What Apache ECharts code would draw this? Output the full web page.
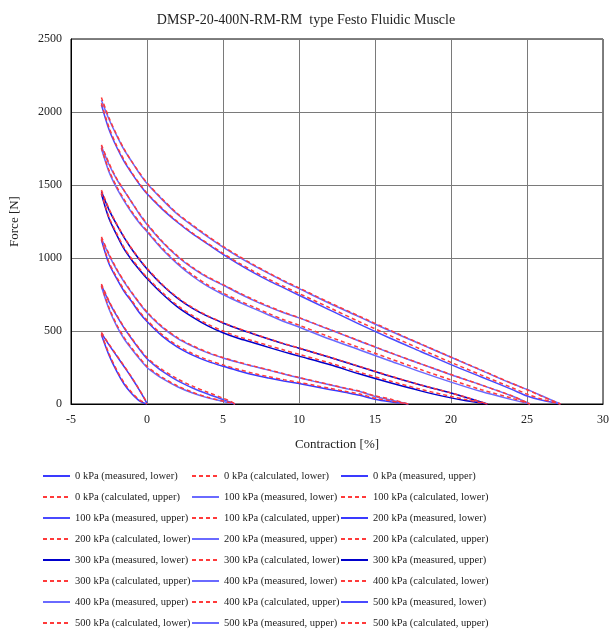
<!DOCTYPE html>
<html>
<head>
<meta charset="utf-8">
<script src="https://cdn.jsdelivr.net/npm/echarts@6/dist/echarts.min.js"></script>
<style>
  html, body { margin: 0; padding: 0; background: #fff; }
  #chart { width: 612px; height: 629px; }
</style>
</head>
<body>
<div id="chart"></div>
<script>
// Contraction [%] sample points per pressure loop, with forces [N]
const x0 = [-3, -2.5, -2, -1.5, -1, -0.5, 0];
const m0Lower = [475, 335, 225, 135, 70, 22, 0];
const c0Lower = [480, 345, 235, 145, 78, 28, 2];
const m0Upper = [485, 405, 330, 255, 178, 95, 5];
const c0Upper = [490, 410, 335, 260, 182, 98, 8];

const x100 = [-3, -2.5, -2, -1.5, -1, -0.5, 0, 0.5, 1, 2, 3, 4, 5, 5.5, 5.8];
const m100Lower = [805, 650, 535, 445, 375, 310, 250, 210, 175, 118, 75, 42, 18, 6, 0];
const c100Lower = [810, 660, 545, 455, 383, 318, 258, 218, 182, 124, 80, 46, 20, 8, 0];
const m100Upper = [815, 700, 605, 520, 445, 375, 310, 265, 225, 160, 110, 68, 30, 12, 0];
const c100Upper = [822, 706, 610, 525, 450, 380, 318, 273, 235, 172, 122, 80, 40, 18, 0];

const x200 = [-3, -2.5, -2, -1.5, -1, -0.5, 0, 1, 2, 3, 4, 5, 6, 7, 8, 9, 10, 11, 12, 13, 14, 15, 16, 17.2];
const m200Lower = [1125, 960, 860, 770, 700, 625, 565, 465, 390, 335, 292, 258, 228, 200, 178, 158, 140, 120, 100, 80, 60, 32, 15, 0];
const c200Lower = [1130, 970, 870, 780, 708, 634, 574, 475, 400, 345, 302, 268, 238, 210, 187, 167, 148, 128, 108, 88, 68, 40, 22, 0];
const m200Upper = [1135, 1020, 920, 835, 760, 690, 625, 525, 450, 395, 350, 315, 285, 258, 232, 205, 180, 155, 132, 108, 85, 52, 28, 0];
const c200Upper = [1145, 1028, 926, 840, 764, 694, 630, 530, 455, 400, 354, 318, 288, 260, 234, 207, 182, 157, 134, 110, 88, 56, 34, 0];

const x300 = [-3, -2.5, -2, -1.5, -1, -0.5, 0, 1, 2, 3, 4, 5, 6, 7, 8, 9, 10, 12, 14, 16, 18, 20, 21, 22.4];
const m300Lower = [1440, 1270, 1160, 1060, 985, 920, 860, 755, 665, 595, 535, 488, 450, 420, 388, 357, 328, 270, 205, 145, 90, 42, 22, 0];
const c300Lower = [1445, 1280, 1170, 1070, 993, 928, 868, 764, 675, 605, 546, 500, 462, 432, 400, 370, 340, 282, 217, 157, 101, 52, 30, 0];
const m300Upper = [1455, 1330, 1230, 1140, 1060, 990, 925, 815, 725, 655, 600, 555, 515, 480, 445, 412, 382, 320, 255, 190, 130, 75, 45, 0];
const c300Upper = [1465, 1338, 1235, 1145, 1064, 994, 930, 820, 730, 660, 604, 558, 518, 482, 447, 414, 384, 322, 257, 192, 131, 76, 46, 0];

const x400 = [-3, -2.5, -2, -1.5, -1, -0.5, 0, 1, 2, 3, 4, 5, 6, 7, 8, 9, 10, 12, 14, 16, 18, 20, 22, 24, 25.2];
const m400Lower = [1750, 1590, 1480, 1390, 1310, 1240, 1180, 1060, 960, 875, 805, 750, 700, 655, 610, 565, 527, 445, 370, 295, 220, 150, 85, 30, 0];
const c400Lower = [1755, 1600, 1490, 1400, 1318, 1248, 1187, 1068, 968, 884, 815, 760, 710, 665, 620, 577, 540, 460, 385, 310, 236, 165, 98, 40, 0];
const m400Upper = [1765, 1640, 1540, 1460, 1380, 1300, 1230, 1110, 1010, 930, 865, 815, 760, 710, 665, 625, 590, 510, 430, 350, 275, 200, 130, 55, 0];
const c400Upper = [1775, 1650, 1545, 1462, 1382, 1305, 1235, 1115, 1015, 935, 870, 818, 765, 715, 670, 628, 592, 512, 432, 352, 276, 202, 130, 56, 0];

const x500 = [-3, -2.5, -2, -1.5, -1, -0.5, 0, 1, 2, 3, 4, 5, 6, 7, 8, 9, 10, 12, 14, 16, 18, 20, 22, 24, 25, 26, 27.2];
const m500Lower = [2050, 1880, 1760, 1660, 1580, 1505, 1440, 1335, 1245, 1165, 1095, 1025, 960, 900, 845, 795, 745, 645, 545, 450, 360, 270, 185, 100, 55, 25, 0];
const c500Lower = [2060, 1895, 1770, 1670, 1585, 1510, 1445, 1340, 1250, 1170, 1100, 1032, 968, 910, 855, 805, 757, 660, 562, 468, 376, 285, 198, 112, 68, 32, 0];
const m500Upper = [2080, 1950, 1840, 1740, 1660, 1580, 1510, 1400, 1300, 1220, 1145, 1075, 1010, 950, 895, 840, 790, 690, 595, 500, 410, 320, 230, 140, 100, 55, 0];
const c500Upper = [2100, 1960, 1845, 1745, 1660, 1585, 1515, 1405, 1305, 1225, 1150, 1080, 1015, 955, 898, 845, 795, 695, 600, 505, 412, 322, 232, 142, 98, 52, 0];

const xTicks = { min: -5, max: 30, interval: 5 };
const yTicks = { min: 0, max: 2500, interval: 500 };

const loops = [
  { p: 0,   x: x0,   mL: m0Lower,   cL: c0Lower,   mU: m0Upper,   cU: c0Upper,   colL: '#3a3aff', colU: '#3a3aff' },
  { p: 100, x: x100, mL: m100Lower, cL: c100Lower, mU: m100Upper, cU: c100Upper, colL: '#6a6aff', colU: '#4a4aff' },
  { p: 200, x: x200, mL: m200Lower, cL: c200Lower, mU: m200Upper, cU: c200Upper, colL: '#3a3aff', colU: '#6a6aff' },
  { p: 300, x: x300, mL: m300Lower, cL: c300Lower, mU: m300Upper, cU: c300Upper, colL: '#0000cc', colU: '#0000cc' },
  { p: 400, x: x400, mL: m400Lower, cL: c400Lower, mU: m400Upper, cU: c400Upper, colL: '#6a6aff', colU: '#6a6aff' },
  { p: 500, x: x500, mL: m500Lower, cL: c500Lower, mU: m500Upper, cU: c500Upper, colL: '#4a4aff', colU: '#6a6aff' }
];

const RED = '#ff3a3a';
const FONT = '"Liberation Serif", "DejaVu Serif", serif';

function pairs(xs, ys) { return xs.map((v, i) => [v, ys[i]]); }

function measured(name, xs, ys, color) {
  return { name, type: 'line', data: pairs(xs, ys), symbol: 'none', smooth: 0.3,
    lineStyle: { color, width: 1.5 }, itemStyle: { color }, z: 2 };
}
function calculated(name, xs, ys) {
  return { name, type: 'line', data: pairs(xs, ys), symbol: 'none', smooth: 0.3,
    lineStyle: { color: RED, width: 1.5, type: [4, 3] }, itemStyle: { color: RED }, z: 3 };
}

const series = [];
loops.forEach(l => {
  series.push(measured(`${l.p} kPa (measured, lower)`, l.x, l.mL, l.colL));
  series.push(calculated(`${l.p} kPa (calculated, lower)`, l.x, l.cL));
  series.push(measured(`${l.p} kPa (measured, upper)`, l.x, l.mU, l.colU));
  series.push(calculated(`${l.p} kPa (calculated, upper)`, l.x, l.cU));
});

// three legend columns, filled row by row
const names = series.map(s => s.name);
const legendLefts = [37, 186, 335];
const legends = legendLefts.map((left, c) => ({
  orient: 'vertical', left, top: 465, height: 200,
  itemWidth: 27, itemHeight: 12, itemGap: 9,
  data: names.filter((_, i) => i % 3 === c),
  itemStyle: { opacity: 0, borderWidth: 0 },
  textStyle: { fontFamily: FONT, fontSize: 10.5, color: '#222', lineHeight: 12 },
  selectedMode: false
}));

const chart = echarts.init(document.getElementById('chart'), null, { renderer: 'canvas' });
chart.setOption({
  animation: false,
  backgroundColor: '#fff',
  title: {
    text: 'DMSP-20-400N-RM-RM  type Festo Fluidic Muscle',
    left: 'center', top: 8,
    textStyle: { fontFamily: FONT, fontSize: 14, fontWeight: 'normal', color: '#222' }
  },
  grid: { left: 67, right: 7, top: 39, bottom: 225, show: true, borderColor: '#000', borderWidth: 1 },
  xAxis: {
    type: 'value', min: xTicks.min, max: xTicks.max, interval: xTicks.interval,
    name: 'Contraction [%]', nameLocation: 'middle', nameGap: 34,
    nameTextStyle: { fontFamily: FONT, fontSize: 13, color: '#222' },
    axisLine: { onZero: false, lineStyle: { color: '#000' } },
    axisTick: { show: false },
    axisLabel: { fontFamily: FONT, fontSize: 12, color: '#222', margin: 10 },
    splitLine: { show: true, lineStyle: { color: '#7a7a7a', width: 1 } }
  },
  yAxis: {
    type: 'value', min: yTicks.min, max: yTicks.max, interval: yTicks.interval,
    name: 'Force [N]', nameLocation: 'middle', nameGap: 50, nameRotate: 90,
    nameTextStyle: { fontFamily: FONT, fontSize: 13, color: '#222' },
    axisLine: { show: true, onZero: false, lineStyle: { color: '#000' } },
    axisTick: { show: false },
    axisLabel: { fontFamily: FONT, fontSize: 12, color: '#222', margin: 9, formatter: v => String(v) },
    splitLine: { show: true, lineStyle: { color: '#7a7a7a', width: 1 } }
  },
  legend: legends,
  series
});
</script>
</body>
</html>
